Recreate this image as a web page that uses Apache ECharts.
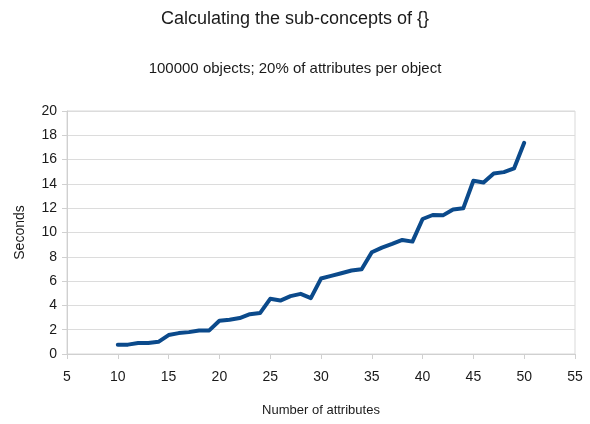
<!DOCTYPE html>
<html>
<head>
<meta charset="utf-8">
<script src="https://cdn.jsdelivr.net/npm/echarts@6/dist/echarts.min.js"></script>
<style>html,body{margin:0;padding:0;background:#fff}#c{width:590px;height:424px}</style>
</head>
<body>
<div id="c"></div>
<script>
const attributes = [10,11,12,13,14,15,16,17,18,19,20,21,22,23,24,25,26,27,28,29,30,31,32,33,34,35,36,37,38,39,40,41,42,43,44,45,46,47,48,49,50];
const seconds = [0.77,0.77,0.9,0.9,1.0,1.56,1.72,1.8,1.94,1.94,2.74,2.82,2.96,3.28,3.37,4.54,4.4,4.76,4.95,4.6,6.21,6.43,6.65,6.87,6.98,8.37,8.76,9.06,9.39,9.25,11.11,11.44,11.41,11.9,11.99,14.26,14.12,14.86,14.97,15.27,17.38];
const titleText = 'Calculating the sub-concepts of {}';
const subtitleText = '100000 objects; 20% of attributes per object';
const xName = 'Number of attributes';
const yName = 'Seconds';

const font = "'Liberation Sans Narrow', 'Liberation Sans', Arial, sans-serif";
const chart = echarts.init(document.getElementById('c'), null, {renderer: 'canvas'});
chart.setOption({
  animation: false,
  backgroundColor: '#fff',
  title: [
    {text: titleText, left: 'center', top: 5, textStyle: {fontFamily: font, fontSize: 18, fontWeight: 'normal', color: '#1a1a1a'}},
    {text: subtitleText, left: 'center', top: 56, textStyle: {fontFamily: font, fontSize: 15, fontWeight: 'normal', color: '#1a1a1a'}}
  ],
  grid: {left: 67, right: 15, top: 111, bottom: 70, show: true, borderColor: '#d9d9d9', borderWidth: 1, backgroundColor: 'transparent'},
  xAxis: {
    type: 'value', min: 5, max: 55, interval: 5,
    name: xName, nameLocation: 'middle', nameGap: 50,
    nameTextStyle: {fontFamily: font, fontSize: 13, color: '#1a1a1a'},
    axisLine: {show: true, lineStyle: {color: '#d0d0d0'}},
    axisTick: {show: true, length: 5, lineStyle: {color: '#d0d0d0'}},
    axisLabel: {fontFamily: font, fontSize: 14, color: '#1a1a1a', margin: 16},
    splitLine: {show: false}
  },
  yAxis: {
    type: 'value', min: 0, max: 20, interval: 2,
    name: yName, nameLocation: 'middle', nameGap: 40, nameRotate: 90,
    nameTextStyle: {fontFamily: font, fontSize: 14, color: '#1a1a1a'},
    axisLine: {show: true, lineStyle: {color: '#d0d0d0'}},
    axisTick: {show: true, length: 5, lineStyle: {color: '#d0d0d0'}},
    axisLabel: {fontFamily: font, fontSize: 14, color: '#1a1a1a', margin: 10},
    splitLine: {show: true, lineStyle: {color: '#dcdcdc'}}
  },
  series: [{
    type: 'line',
    data: attributes.map((a, i) => [a, seconds[i]]),
    showSymbol: false,
    lineStyle: {color: '#0b4a8b', width: 4, join: 'round', cap: 'round'},
    itemStyle: {color: '#0b4a8b'}
  }]
});
</script>
</body>
</html>
